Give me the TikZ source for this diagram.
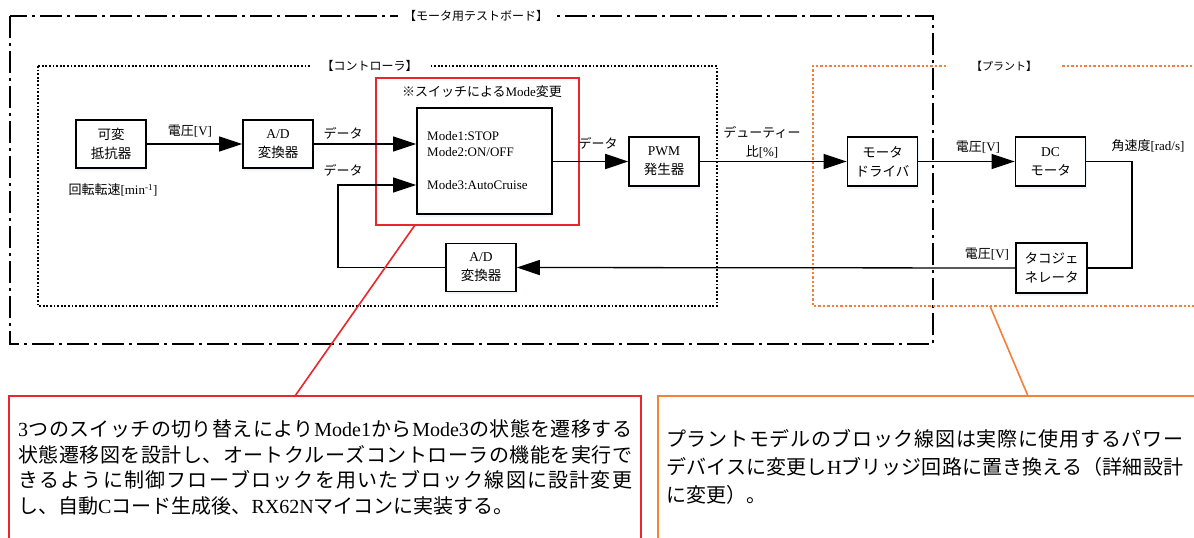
\documentclass[tikz,border=0pt]{standalone}
\usepackage{fontspec}
\setmainfont{Liberation Serif}
\newfontfamily\jp{Noto Sans CJK JP}
\usetikzlibrary{arrows.meta,shadows}
\definecolor{redc}{RGB}{232,38,44}
\definecolor{orc}{RGB}{245,128,58}
\definecolor{shadowc}{RGB}{225,235,248}
\newcommand\JP[1]{{\jp #1}}
% stretchable glue between CJK characters (used only inside the callout lines)
\newXeTeXintercharclass\cjkcls
\newcount\cjkc
\cjkc="3000
\loop \XeTeXcharclass\cjkc=\cjkcls \advance\cjkc by 1 \ifnum\cjkc<"3100 \repeat
\cjkc="4E00
\loop \XeTeXcharclass\cjkc=\cjkcls \advance\cjkc by 1 \ifnum\cjkc<"A000 \repeat
\cjkc="FF00
\loop \XeTeXcharclass\cjkc=\cjkcls \advance\cjkc by 1 \ifnum\cjkc<"FF20 \repeat
\XeTeXinterchartoks\cjkcls\cjkcls={\hskip 0pt plus 1pt\relax}
\newcommand\jline[2]{\hbox to #1{\XeTeXinterchartokenstate=1 #2}}
\begin{document}
\begin{tikzpicture}[x=1pt,y=-1pt,
  blk/.style={draw,line width=1.6pt,fill=white,minimum width=70pt,minimum height=48pt,
    inner sep=0pt,align=center,font=\fontsize{13.5}{19}\selectfont,
    drop shadow={shadow xshift=1pt,shadow yshift=-2.5pt,fill=shadowc,draw=none}},
  conn/.style={line width=1.3pt},
  arr/.style={conn,-{Triangle[length=23pt,width=15pt]}},
  lbl/.style={font=\fontsize{13}{19}\selectfont,inner sep=0pt,align=center},
  ttl/.style={fill=white,inner ysep=2pt,font=\fontsize{12}{14}\selectfont},
  outerline/.style={line width=2.2pt,dash pattern=on 22pt off 5pt on 3pt off 5pt},
  ctrlline/.style={line width=1.8pt,dash pattern=on 1.8pt off 1.8pt},
  plantline/.style={draw=orc,line width=2pt,dash pattern=on 2.4pt off 2pt},
  ctext/.style={anchor=west,inner sep=0pt,font=\fontsize{20}{25}\selectfont}
]
\clip (0,0) rectangle (1194,538);
\fill[white] (0,0) rectangle (1194,538);

% containers
\draw[outerline] (10,16) rectangle (933,344);
\draw[ctrlline] (38,66) rectangle (717,306);
\draw[plantline] (1210,66) -- (813,66) -- (813,306) -- (1210,306);
\node[ttl,inner xsep=6pt] (tb) at (476,16) {\JP{【モータ用テストボード】}};
\node[ttl,inner xsep=11pt] (ctl) at (369.5,66) {\JP{【コントローラ】}};
\node[ttl,inner xsep=23pt,font=\fontsize{11}{13}\selectfont] (plt) at (1004,66) {\JP{【プラント】}};

% red mode region
\node[draw=redc,line width=2pt,minimum width=203pt,minimum height=147pt,inner sep=0pt] (redbox) at (477.5,151.5) {};
\node[lbl] (rt) at (482,92) {\JP{※スイッチによる}Mode\JP{変更}};

% blocks
\node[blk] (var) at (111,144) {\JP{可変}\\\JP{抵抗器}};
\node[blk] (ad1) at (278,144) {A/D\\\JP{変換器}};
\node[blk,minimum width=135pt,minimum height=106pt] (mode) at (484.5,161) {};
\node[lbl,anchor=west] (m1) at (427,136) {Mode1:STOP};
\node[lbl,anchor=west] (m2) at (427,152) {Mode2:ON/OFF};
\node[lbl,anchor=west] (m3) at (427,185) {Mode3:AutoCruise};
\node[blk,minimum height=49pt] (pwm) at (664,161.5) {PWM\\\JP{発生器}};
\node[blk,minimum height=49pt] (drv) at (882.5,161.5) {\JP{モータ}\\\JP{ドライバ}};
\node[blk,minimum height=49pt] (dc) at (1050.5,161.5) {DC\\\JP{モータ}};
\node[blk,minimum width=71pt,minimum height=50pt] (tacho) at (1051.5,268) {\JP{タコジェ}\\\JP{ネレータ}};
\node[blk] (ad2) at (481,267.5) {A/D\\\JP{変換器}};

% labels
\node[lbl] (l1) at (190,131) {\JP{電圧}[V]};
\node[lbl] (l2) at (343,133) {\JP{データ}};
\node[lbl] (l3) at (343,170) {\JP{データ}};
\node[lbl] (l4) at (598,143) {\JP{データ}};
\node[lbl] (l5) at (762,142.5) {\JP{デューティー}\\\JP{比}[\%]};
\node[lbl] (l6) at (978,147) {\JP{電圧}[V]};
\node[lbl] (l7) at (1148,146) {\JP{角速度}[rad/s]};
\node[lbl] (l8) at (987,254) {\JP{電圧}[V]};
\node[lbl] (l9) at (113,190) {\JP{回転転速}[min\textsuperscript{-1}]};

% connectors
\coordinate (fbx) at (338,185);
\coordinate (rbend) at (1132,200);
\draw[arr] (var.east) -- (ad1.west);
\draw[arr] (ad1.east) -- (mode.west |- ad1.east);
\draw[arr] (ad2.west) -| (fbx) -- (mode.west |- fbx);
\draw[arr,line width=1.8pt] (mode.east |- pwm.west) -- (pwm.west);
\draw[arr] (pwm.east) -- (drv.west);
\draw[arr] (drv.east) -- (dc.west);
\draw[conn] (dc.east) -| (rbend) |- (tacho.east);
\draw[arr] (tacho.west) -- (ad2.east);

% callouts
\draw[draw=redc,line width=2pt] (9,396) rectangle (641,560);
\draw[draw=orc,line width=2pt] (658,396) rectangle (1230,560);
\coordinate (redA) at (415,225);
\coordinate (redB) at (295,396);
\coordinate (orA) at (990,306);
\coordinate (orB) at (1028,396);
\draw[redc,line width=1.6pt] (redA) -- (redB);
\draw[orc,line width=1.6pt] (orA) -- (orB);

\node[ctext] (r1) at (18,429) {\jline{614pt}{3\hskip0pt plus 1pt\JP{つのスイッチの切り替えにより}\hskip0pt plus 1pt Mode1\hskip0pt plus 1pt\JP{から}\hskip0pt plus 1pt Mode3\hskip0pt plus 1pt\JP{の状態を遷移する}}};
\node[ctext] (r2) at (18,455) {\jline{614pt}{\JP{状態遷移図を設計し、オートクルーズコントローラの機能を実行で}}};
\node[ctext] (r3) at (18,480) {\jline{614pt}{\JP{きるように制御フローブロックを用いたブロック線図に設計変更}}};
\node[ctext] (r4) at (18,506) {\JP{し、自動}C\JP{コード生成後、}RX62N\JP{マイコンに実装する。}};

\node[ctext] (o1) at (666,439) {\jline{517pt}{\JP{プラントモデルのブロック線図は実際に使用するパワー}}};
\node[ctext] (o2) at (666,467) {\jline{517pt}{\JP{デバイスに変更し}\hskip0pt plus 1pt H\hskip0pt plus 1pt\JP{ブリッジ回路に置き換える（詳細設計}}};
\node[ctext] (o3) at (666,495) {\JP{に変更）。}};
\end{tikzpicture}
\end{document}
